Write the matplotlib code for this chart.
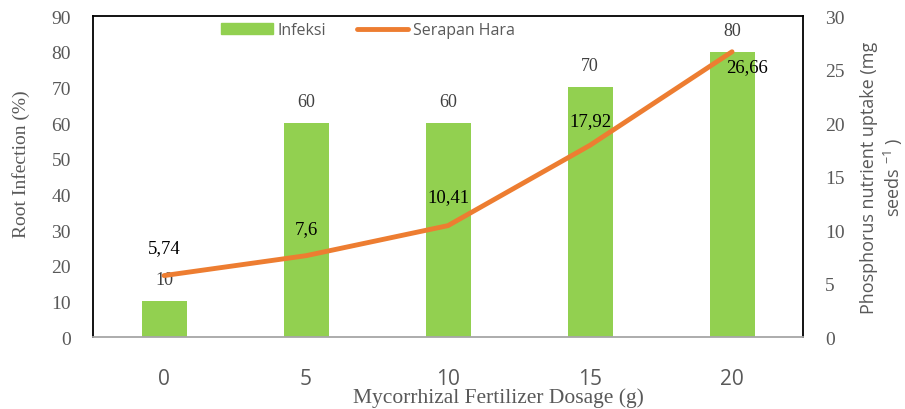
import matplotlib
matplotlib.use("Agg")
import matplotlib.pyplot as plt
from matplotlib.lines import Line2D
from matplotlib.patches import Patch

categories = ["0", "5", "10", "15", "20"]
infection = [10, 60, 60, 70, 80]
uptake = [5.74, 7.6, 10.41, 17.92, 26.66]
uptake_labels = ["5,74", "7,6", "10,41", "17,92", "26,66"]

GRAY = "#595959"
GREEN = "#92D050"
ORANGE = "#ED7D31"
SERIF = "Liberation Serif"
SANS = "Open Sans"

fig = plt.figure(figsize=(9.05, 4.1), dpi=100)
ax = fig.add_axes([0.1028, 0.1756, 0.7845, 0.7829])
x = list(range(len(categories)))
ax.bar(x, infection, width=0.317, color=GREEN, zorder=2)
ax.set_xlim(-0.5, 4.5)
ax.set_ylim(0, 90)
ax.set_yticks(range(0, 91, 10))
ax.set_xticks(x)
ax.set_xticklabels(categories, fontfamily=SANS, fontsize=15, color=GRAY)
ax.tick_params(axis="x", length=0, pad=22)
ax.tick_params(axis="y", length=0, pad=16, labelsize=14, labelcolor=GRAY)
for lab in ax.get_yticklabels():
    lab.set_fontfamily(SERIF)
for s in ["left", "top", "right"]:
    ax.spines[s].set_color("black")
    ax.spines[s].set_linewidth(1.3)
ax.spines["bottom"].set_color("#A6A6A6")
ax.spines["bottom"].set_linewidth(1.3)
ax.set_ylabel("Root Infection (%)", fontfamily=SERIF, fontsize=14, color=GRAY, va="center")
ax.yaxis.set_label_coords(-0.1015, 0.542)

fig.text(498 / 905, 0.016, "Mycorrhizal Fertilizer Dosage (g)", ha="center", va="baseline",
         fontfamily=SERIF, fontsize=15.5, color=GRAY)

for xi, v in zip(x, infection):
    ax.annotate(str(v), (xi, v), xytext=(0, 15.5), textcoords="offset points",
                ha="center", va="center", fontfamily=SERIF, fontsize=13, color="#404040")

ax2 = ax.twinx()
ax2.plot(x, uptake, color=ORANGE, linewidth=3.5, solid_capstyle="round", zorder=3)
ax2.set_ylim(0, 30)
ax2.set_yticks(range(0, 31, 5))
ax2.tick_params(axis="y", length=0, pad=16, labelsize=14, labelcolor=GRAY)
for lab in ax2.get_yticklabels():
    lab.set_fontfamily(SERIF)
for s in ax2.spines.values():
    s.set_visible(False)
ax2.set_ylabel("Phosphorus nutrient uptake (mg\nseeds $^{\\mathregular{-1}}$ )", fontfamily=SANS,
               fontsize=13, color=GRAY, linespacing=1.2, va="center")
ax2.yaxis.set_label_coords(1.1115, 0.50)

offsets = [(0, 20), (0, 19.5), (0, 21), (0, 18), (11, -11)]
for xi, v, t, off in zip(x, uptake, uptake_labels, offsets):
    ax2.annotate(t, (xi, v), xytext=off, textcoords="offset points",
                 ha="center", va="center", fontfamily=SERIF, fontsize=13.5, color="black")

handles = [Patch(color=GREEN, label="Infeksi"),
           Line2D([0], [0], color=ORANGE, linewidth=3.5, solid_capstyle="round", label="Serapan Hara")]
leg = ax.legend(handles=handles, loc="center left", bbox_to_anchor=(0.180, 0.956), ncol=2,
                frameon=False, prop={"family": SANS, "size": 11.5}, handlelength=3.25,
                handletextpad=0.3, columnspacing=1.9, borderpad=0, borderaxespad=0,
                labelcolor=GRAY)

fig.savefig("out.png", dpi=100)
